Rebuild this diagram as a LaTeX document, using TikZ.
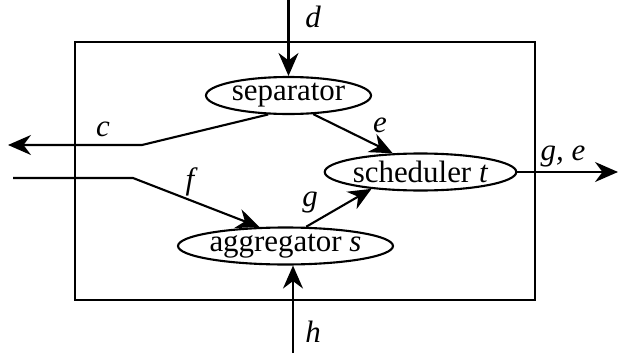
\documentclass[tikz,border=0pt]{standalone}
\usepackage{fontspec}
\setmainfont{Liberation Serif}
\usetikzlibrary{shapes.geometric,arrows.meta}
\newcommand\diagfont{\fontsize{17.6}{20}\selectfont}
\tikzset{
  unit/.style={draw,ellipse,line width=1.2pt,minimum width=33mm,minimum height=7.4mm,inner sep=0pt,font=\diagfont},
  flow/.style={line width=1.2pt,-{Stealth[length=4.6mm,width=4mm,inset=1.5mm]}},
  sig/.style={font=\diagfont\itshape}
}

\begin{document}
\begin{tikzpicture}[x=1mm,y=1mm]
  \useasboundingbox (0,0) rectangle (123.8,71.8);
  \draw[line width=1pt] (15,11.8) rectangle (107,63.4);
  \node[unit] (sep) at (57.7,52.7) {separator};
  \node[unit] (sched) at (84.1,37.4) {scheduler \textit{t}};
  \node[unit] (agg) at (57.1,22.6) {aggregator \textit{s}};
  % free ends and bends
  \coordinate (din) at (57.7,71.8);
  \coordinate (cbend) at (28.4,42.8);
  \coordinate (cout) at (1.6,42.8);
  \coordinate (fin) at (2.6,36.2);
  \coordinate (fbend) at (26.6,36.2);
  \coordinate (geout) at (123.6,37.4);
  \coordinate (hin) at (58.6,1.2);
  \draw[flow] (din) -- (sep);
  \draw[flow] (sep.223) -- (cbend) -- (cout);
  \draw[flow] (sep.323) -- (sched.146);
  \draw[flow] (fin) -- (fbend) -- (agg.144);
  \draw[flow] (agg.43) -- (sched.199);
  \draw[flow] (sched.east) -- (geout);
  \draw[flow] (hin) -- (hin |- agg.south);
  % signal names
  \node[sig] (dlab) at (62.6,68.4) {d};
  \node[sig] (clab) at (20.6,46) {c};
  \node[sig] (elab) at (76,46.8) {e};
  \node[sig] (flab) at (38,35.4) {f};
  \node[sig] (glab) at (62,31.2) {g};
  \node[sig] (gelab) at (112.6,40.4) {g, e};
  \node[sig] (hlab) at (62.6,5.4) {h};
\end{tikzpicture}
\end{document}
